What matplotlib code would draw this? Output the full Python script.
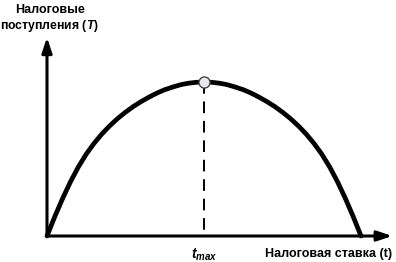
import matplotlib.pyplot as plt

plt.rcParams['font.family'] = ['Liberation Sans', 'DejaVu Sans']
plt.rcParams['mathtext.fontset'] = 'custom'
plt.rcParams['mathtext.it'] = 'Liberation Sans:italic:bold'
plt.rcParams['mathtext.rm'] = 'Liberation Sans:bold'

# tax rate (share of the max rate) and tax revenue (share of the peak)
rate_left = [0.0, 0.025, 0.05, 0.075, 0.1, 0.125, 0.15, 0.175, 0.2, 0.225, 0.25,
             0.275, 0.3, 0.325, 0.35, 0.375, 0.4, 0.425, 0.45, 0.475, 0.5]
revenue_left = [0.0, 0.127, 0.245, 0.353, 0.449, 0.532, 0.602, 0.663, 0.716, 0.763, 0.804,
                0.841, 0.873, 0.902, 0.928, 0.950, 0.967, 0.982, 0.992, 0.998, 1.0]
# the right half mirrors the left one
rate = rate_left + [round(1 - r, 3) for r in reversed(rate_left[:-1])]
revenue = revenue_left + list(reversed(revenue_left[:-1]))
t_peak = 0.5
T_peak = 1.0

fig = plt.figure(figsize=(3.96, 2.62), dpi=100)
ax = fig.add_axes([0, 0, 1, 1])
ax.set_xlim(-47 / 314, 349 / 314)
ax.set_ylim(-26 / 154, 236 / 154)
ax.axis('off')

# axes with arrows
arrow = dict(arrowstyle='-|>,head_length=0.9,head_width=0.3', lw=2.2, color='black',
             shrinkA=0, shrinkB=0)
ax.annotate('', xy=(0, 1.29), xytext=(0, 0), arrowprops=arrow)
ax.annotate('', xy=(1.1, 0), xytext=(0, 0), arrowprops=arrow)

# Laffer curve
ax.plot(rate, revenue, color='black', lw=3.4, solid_capstyle='round', solid_joinstyle='round')

# dashed line to t_max and the peak point
ax.plot([t_peak, t_peak], [T_peak, 0], color='black', lw=1.4, dashes=(6, 4))
ax.plot([t_peak], [T_peak], 'o', ms=8, mfc='#e6e8f4', mec='#444444', mew=1.0, zorder=5)

ax.text(0.008, 1.465, 'Налоговые', ha='center', va='center', fontsize=9, fontweight='bold')
ax.text(0.008, 1.365, 'поступления ($T$)', ha='center', va='center', fontsize=8.8, fontweight='bold')
ax.text(t_peak, -0.12, '$t_{max}$', ha='center', va='center', fontsize=10)
ax.text(1.1, -0.12, 'Налоговая ставка (t)', ha='right', va='center', fontsize=9, fontweight='bold')

plt.savefig('out.png', dpi=100)
